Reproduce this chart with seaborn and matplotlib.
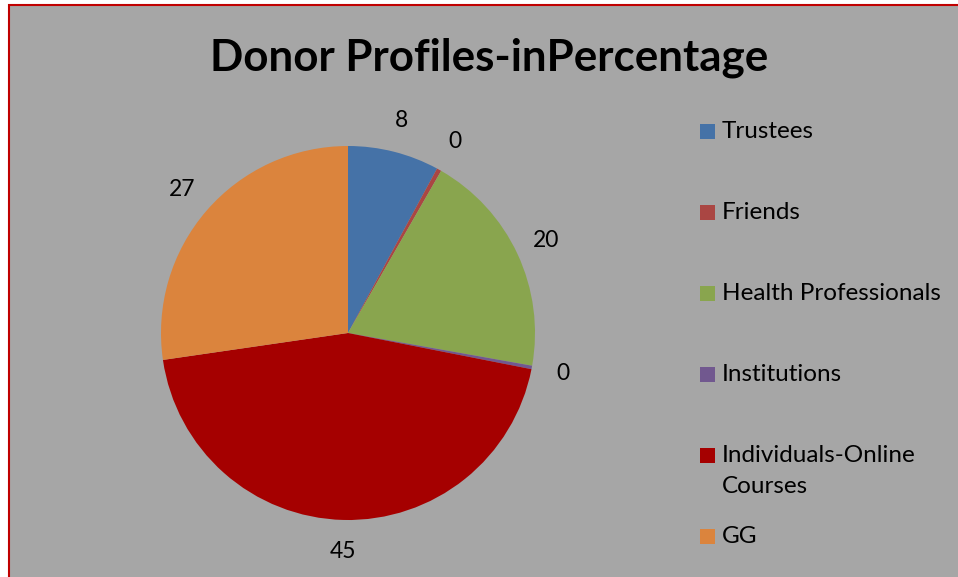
import matplotlib
matplotlib.use("Agg")
import matplotlib.pyplot as plt
from matplotlib.patches import Rectangle
import seaborn as sns

categories = ["Trustees", "Friends", "Health Professionals", "Institutions",
              "Individuals-Online\nCourses", "GG"]
values = [7.9, 0.4, 19.5, 0.3, 44.6, 27.3]
colors = ["#4572a7", "#aa4643", "#89a54e", "#71588f", "#a50000", "#db843d"]

sns.set_theme(style="white")
plt.rcParams['font.family'] = ['Lato', 'DejaVu Sans']

W, H = 958, 577
fig = plt.figure(figsize=(W / 100, H / 100), dpi=100)
fig.patch.set_facecolor("white")

# chart area: grey fill with red frame (right/bottom edges run off the image)
fig.patches.append(Rectangle((8.5 / W, -0.2), 1.2, 1.2 - 4.5 / H, transform=fig.transFigure,
                             facecolor="#a6a6a6", edgecolor="#c00000", linewidth=1.5,
                             zorder=-10))

fig.text(489 / W, 1 - 58 / H, "Donor Profiles-inPercentage", ha="center", va="center",
         fontsize=31.6, fontweight="bold", color="black")

cx, cy, r = 348, 333, 187
ax = fig.add_axes([(cx - r) / W, (H - cy - r) / H, 2 * r / W, 2 * r / H])
ax.set_facecolor("none")
wedges, _, autotexts = ax.pie(values, colors=colors, startangle=90, counterclock=False,
                              autopct=lambda p: f"{p:.0f}", pctdistance=1.17,
                              wedgeprops=dict(linewidth=0),
                              textprops=dict(fontsize=16.5, color="black"))
ax.set_xlim(-1, 1)
ax.set_ylim(-1, 1)
ax.axis("off")

# legend drawn by hand to match the evenly spaced entries
for i, (lab, w) in enumerate(zip(categories, wedges)):
    y = 131 + 81 * i
    fig.patches.append(Rectangle((700 / W, 1 - (y + 7.5) / H), 15 / W, 15 / H,
                                 transform=fig.transFigure,
                                 facecolor=w.get_facecolor(), edgecolor="none"))
    fig.text(722 / W, 1 - (y - 10) / H, lab, ha="left", va="top", fontsize=17.5,
             color="black", linespacing=1.6)

fig.savefig("out.png", dpi=100, facecolor=fig.get_facecolor())
